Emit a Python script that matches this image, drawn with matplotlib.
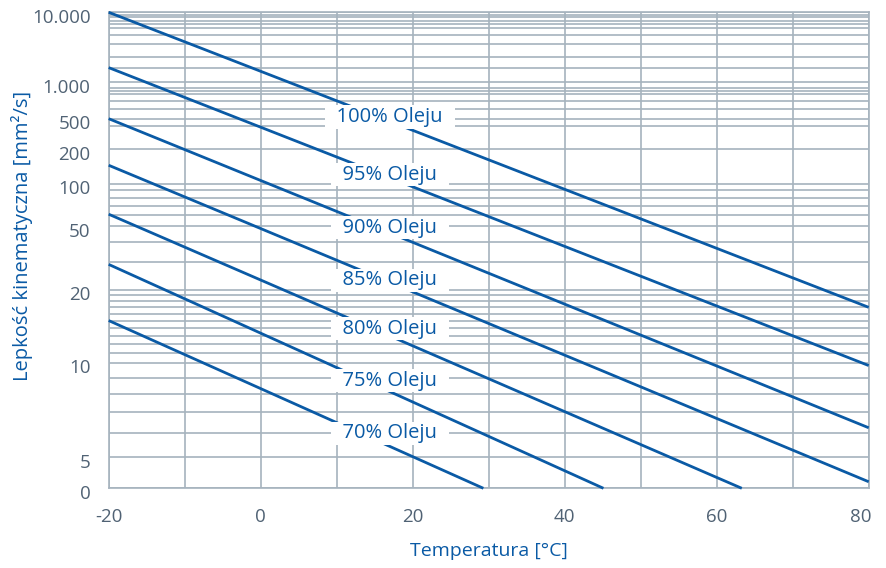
import numpy as np
import matplotlib.pyplot as plt
from matplotlib.transforms import ScaledTranslation

plt.rcParams['font.family'] = ['Open Sans', 'DejaVu Sans']
plt.rcParams['axes.unicode_minus'] = False

# oil share of each curve and its end points (temperature in °C, viscosity in mm²/s)
oil_pct = [100, 95, 90, 85, 80, 75, 70]
t_start = [-20, -20, -20, -20, -20, -20, -20]
v_start = [10000, 1500, 500, 145, 61, 29, 15]
t_end = [80, 80, 80, 80, 63.3, 45.1, 29.3]
v_end = [17, 9.8, 6.25, 0.46, 0, 0, 0]

# where the curve names sit
label_t = [17, 17, 17, 17, 17, 17, 17]
label_v = [516, 120, 49, 23, 13.9, 8.8, 6]

y_ticks = [0, 5, 10, 20, 50, 100, 200, 500, 1000, 10000]
y_ticklabels = ['0', '5', '10', '20', '50', '100', '200', '500', '1.000', '10.000']
y_grid = [9000, 8000, 7000, 6000, 5000, 4000, 3000, 2000, 1500,
          900, 850, 800, 700, 600, 400,
          90, 80, 70, 60, 40, 30,
          19, 18, 17, 16, 15, 14, 13, 12, 11,
          9, 8, 7, 6]
x_ticks = [-20, 0, 20, 40, 60, 80]
x_grid = [-10, 10, 30, 50, 70]

# the printed viscosity grid is not a clean log scale, so it is anchored
# at a few values and interpolated in log(v + 1) between them
anchor_v = np.array([0, 5, 10, 20, 50, 100, 200, 500, 1000, 2000, 5000, 10000])
anchor_s = np.array([0, 0.0651, 0.2639, 0.4166, 0.5504, 0.6393, 0.7128,
                     0.7765, 0.8532, 0.9055, 0.9664, 1.0])
anchor_u = np.log10(anchor_v + 1)


def visc_fwd(v):
    u = np.log10(np.clip(np.asarray(v, dtype=float), 0, None) + 1)
    return np.interp(u, anchor_u, anchor_s)


def visc_inv(s):
    return 10 ** np.interp(np.asarray(s, dtype=float), anchor_s, anchor_u) - 1


blue = '#0a5aa5'
grid_col = '#a6b3be'
tick_col = '#506274'

fig = plt.figure(figsize=(8.86, 5.68), dpi=100)
ax = fig.add_axes([108.7 / 886, (568 - 488.3) / 568, 760 / 886, 476 / 568])
ax.set_yscale('function', functions=(visc_fwd, visc_inv))
ax.set_xlim(-20, 80)
ax.set_ylim(0, 10000)

for i in range(len(oil_pct)):
    ax.plot([t_start[i], t_end[i]], [v_start[i], v_end[i]], color=blue,
            lw=2.0, solid_capstyle='butt', zorder=3, clip_on=False)
    ax.text(label_t[i], label_v[i], f'  {oil_pct[i]}% Oleju  ', color=blue,
            fontsize=14.5, ha='center', va='center', zorder=4,
            bbox=dict(boxstyle='square,pad=0.08', fc='white', ec='none'))

ax.set_xticks(x_ticks)
ax.set_xticks(x_grid, minor=True)
ax.set_yticks(y_ticks, y_ticklabels)
ax.set_yticks(y_grid, minor=True)
ax.grid(True, which='both', color=grid_col, lw=1.2, zorder=0)
ax.set_axisbelow(True)
ax.tick_params(which='both', length=0)
ax.tick_params(axis='y', pad=13, labelsize=13.5, labelcolor=tick_col)
ax.tick_params(axis='x', pad=14, labelsize=13.5, labelcolor=tick_col)
for sp in ax.spines.values():
    sp.set_color(grid_col)
    sp.set_linewidth(1.2)

# value labels sit a little below their grid line
shift = ScaledTranslation(0, -3.5 / 100, fig.dpi_scale_trans)
for lab in ax.get_yticklabels():
    lab.set_transform(lab.get_transform() + shift)
last = ax.get_xticklabels()[-1]
last.set_horizontalalignment('right')
last.set_transform(last.get_transform() + ScaledTranslation(0.03, 0, fig.dpi_scale_trans))

fig.text(488.7 / 886, 1 - 551 / 568, 'Temperatura [°C]', color=blue,
         fontsize=14, ha='center', va='center')
fig.text(22 / 886, 1 - 236 / 568, 'Lepkość kinematyczna [mm²/s]', color=blue,
         fontsize=14.5, ha='center', va='center', rotation=90)

fig.savefig('out.png', dpi=100)
